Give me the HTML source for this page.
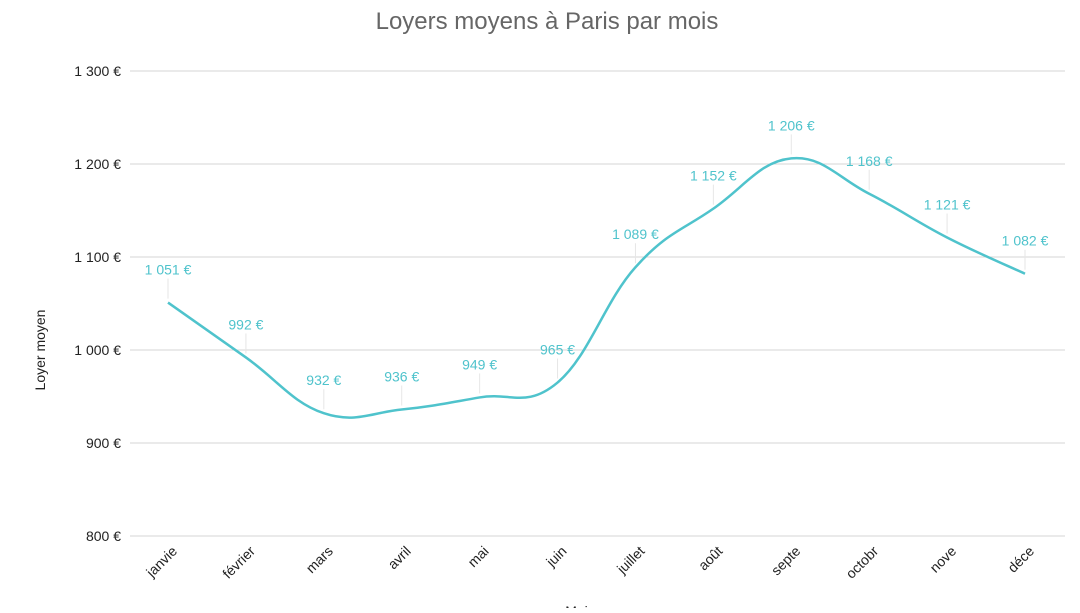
<!DOCTYPE html>
<html><head><meta charset="utf-8"><style>
body{margin:0;background:#fff}
text{font-family:"Liberation Sans",Roboto,sans-serif}
</style></head><body>
<svg id="c" width="1080" height="608" xmlns="http://www.w3.org/2000/svg">
<text x="547" y="29" text-anchor="middle" font-size="24" fill="#666">Loyers moyens à Paris par mois</text>
<text transform="translate(45,350) rotate(-90)" text-anchor="middle" font-size="14" fill="#222">Loyer moyen</text>
<text x="580" y="616" text-anchor="middle" font-size="14" fill="#222">Mois</text>
<g id="grid"></g><g id="ticks"></g><g id="xl"></g><g id="lab"></g>
<path id="line" fill="none" stroke="#4fc3cc" stroke-width="2.5"/>
</svg>
<script>
const categories=["janvie","février","mars","avril","mai","juin","juillet","août","septe","octobr","nove","déce"];
const values=[1051,992,932,936,949,965,1089,1152,1206,1168,1121,1082];
const yTicks=[800,900,1000,1100,1200,1300];
const labels=["1 051 €","992 €","932 €","936 €","949 €","965 €","1 089 €","1 152 €","1 206 €","1 168 €","1 121 €","1 082 €"];
const NS="http://www.w3.org/2000/svg";
const x0=130,x1=1065,yMin=800,yMax=1300,yTop=71,yBot=536;
const y=v=>yBot-(v-yMin)/(yMax-yMin)*(yBot-yTop);
const x=i=>168+i*(1025-168)/(categories.length-1);
function mk(t,a,p){const e=document.createElementNS(NS,t);for(const k in a)e.setAttribute(k,a[k]);p.appendChild(e);return e;}
const g=document.getElementById('grid'),tk=document.getElementById('ticks'),xl=document.getElementById('xl'),lb=document.getElementById('lab');
yTicks.forEach(v=>{
 const l=mk('line',{x1:x0,x2:x1,y1:y(v),y2:y(v),stroke:'#d6d6d6','stroke-width':1},g);
 
 
 const t=mk('text',{x:121,y:y(v)+5,'text-anchor':'end','font-size':14,fill:'#222'},tk);
 t.textContent=(v>=1000?Math.floor(v/1000)+' '+String(v%1000).padStart(3,'0'):v)+' €';
 
 
});
categories.forEach((c,i)=>{
 const t=mk('text',{transform:`translate(${x(i)+10},552) rotate(-45)`,'text-anchor':'end','font-size':14,fill:'#222'},xl);
 t.textContent=c;
 
 
});
values.forEach((v,i)=>{
 const py=y(v);
 const l=mk('line',{x1:x(i),x2:x(i),y1:py-4,y2:py-24,stroke:'#e6e6e6','stroke-width':1},lb);
 
 
 const t=mk('text',{x:x(i),y:py-28,'text-anchor':'middle','font-size':14,fill:'#4fc3cc'},lb);
 t.textContent=labels[i];
 
 
});
const P=values.map((v,i)=>[x(i),y(v)]);
let d=`M${P[0][0]},${P[0][1]}`;const k=0.2;
for(let i=0;i<P.length-1;i++){
 const p0=P[Math.max(0,i-1)],p1=P[i],p2=P[i+1],p3=P[Math.min(P.length-1,i+2)];
 const c1=[p1[0]+(p2[0]-p0[0])*k,p1[1]+(p2[1]-p0[1])*k],c2=[p2[0]-(p3[0]-p1[0])*k,p2[1]-(p3[1]-p1[1])*k];
 d+=` C${c1[0]},${c1[1]} ${c2[0]},${c2[1]} ${p2[0]},${p2[1]}`;
}
document.getElementById('line').setAttribute('d',d);
</script>
</body></html>
